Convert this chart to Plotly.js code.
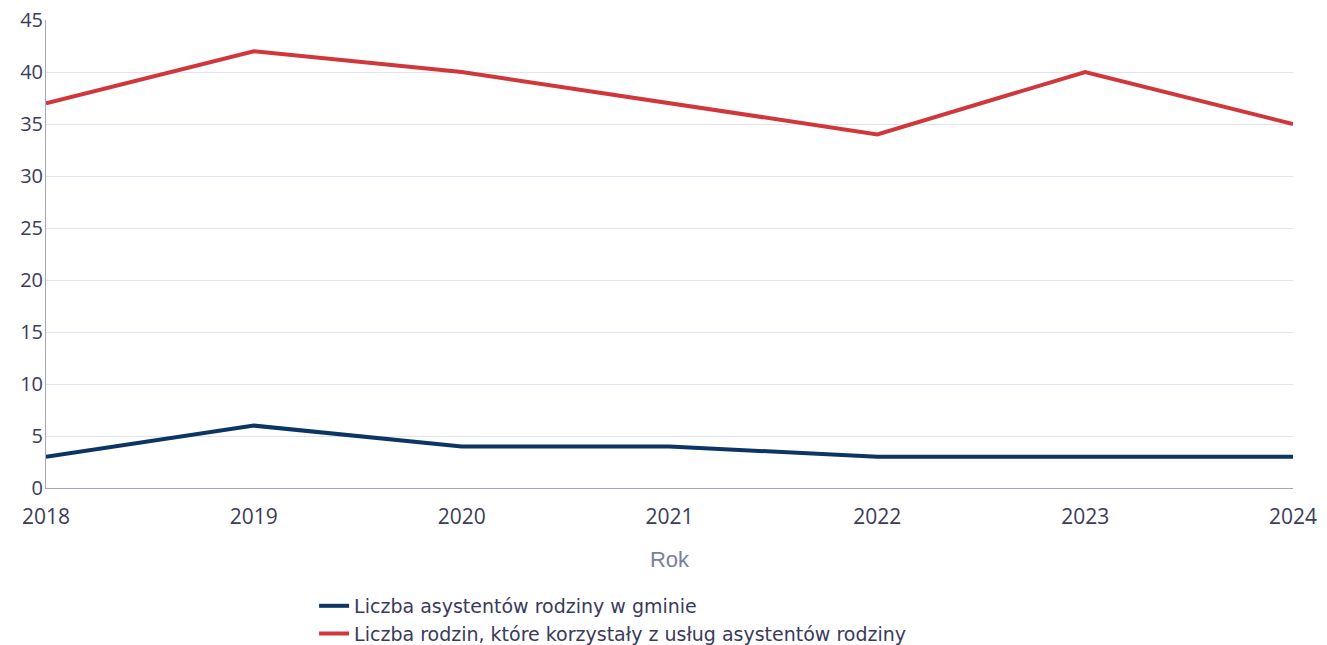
<!DOCTYPE html>
<html>
<head>
<meta charset="utf-8">
<script src="https://cdn.plot.ly/plotly-3.0.1.min.js"></script>
<style>html,body{margin:0;padding:0;background:#fff;}#chart{width:1327px;height:645px;}</style>
</head>
<body>
<div id="chart"></div>
<script>
const years = ['2018', '2019', '2020', '2021', '2022', '2023', '2024'];
const asystenci = [3, 6, 4, 4, 3, 3, 3];
const rodziny = [37, 42, 40, 37, 34, 40, 35];
const seriesNames = ['Liczba asystentów rodziny w gminie', 'Liczba rodzin, które korzystały z usług asystentów rodziny'];

const traces = [
  {x: years, y: asystenci, name: seriesNames[0], type: 'scatter', mode: 'lines',
   line: {color: '#0b3563', width: 4}},
  {x: years, y: rodziny, name: seriesNames[1], type: 'scatter', mode: 'lines',
   line: {color: '#d0363a', width: 4}}
];

const layout = {
  width: 1327, height: 645,
  margin: {l: 46, r: 34, t: 20, b: 157},
  paper_bgcolor: '#ffffff', plot_bgcolor: '#ffffff',
  showlegend: true,
  legend: {
    orientation: 'v', x: 0.215, xanchor: 'left',
    yref: 'container', y: 0.09, yanchor: 'top',
    font: {family: 'DejaVu Sans, sans-serif', size: 19, color: '#3a3a5a'},
    tracegroupgap: 0, itemwidth: 30
  },
  xaxis: {
    type: 'category', range: [0, 6],
    showgrid: false, zeroline: false,
    showline: true, linecolor: '#a3a6c4', linewidth: 1,
    ticks: '', ticklabelstandoff: 10,
    tickfont: {family: 'Open Sans, sans-serif', size: 21, color: '#3c3c58'},
    title: {text: 'Rok', font: {family: 'Liberation Sans, Arial, sans-serif', size: 22, color: '#7a7ea0'}, standoff: 22},
    automargin: false
  },
  yaxis: {
    range: [0, 45], dtick: 5,
    showgrid: true, gridcolor: '#e2e2ee', gridwidth: 1,
    zeroline: false, showline: true, linecolor: '#a3a6c4', linewidth: 1,
    ticks: '', ticklabelstandoff: -2,
    tickfont: {family: 'Open Sans, sans-serif', size: 20, color: '#3c3c58'},
    automargin: false
  }
};

Plotly.newPlot('chart', traces, layout, {displayModeBar: false});
</script>
</body>
</html>
